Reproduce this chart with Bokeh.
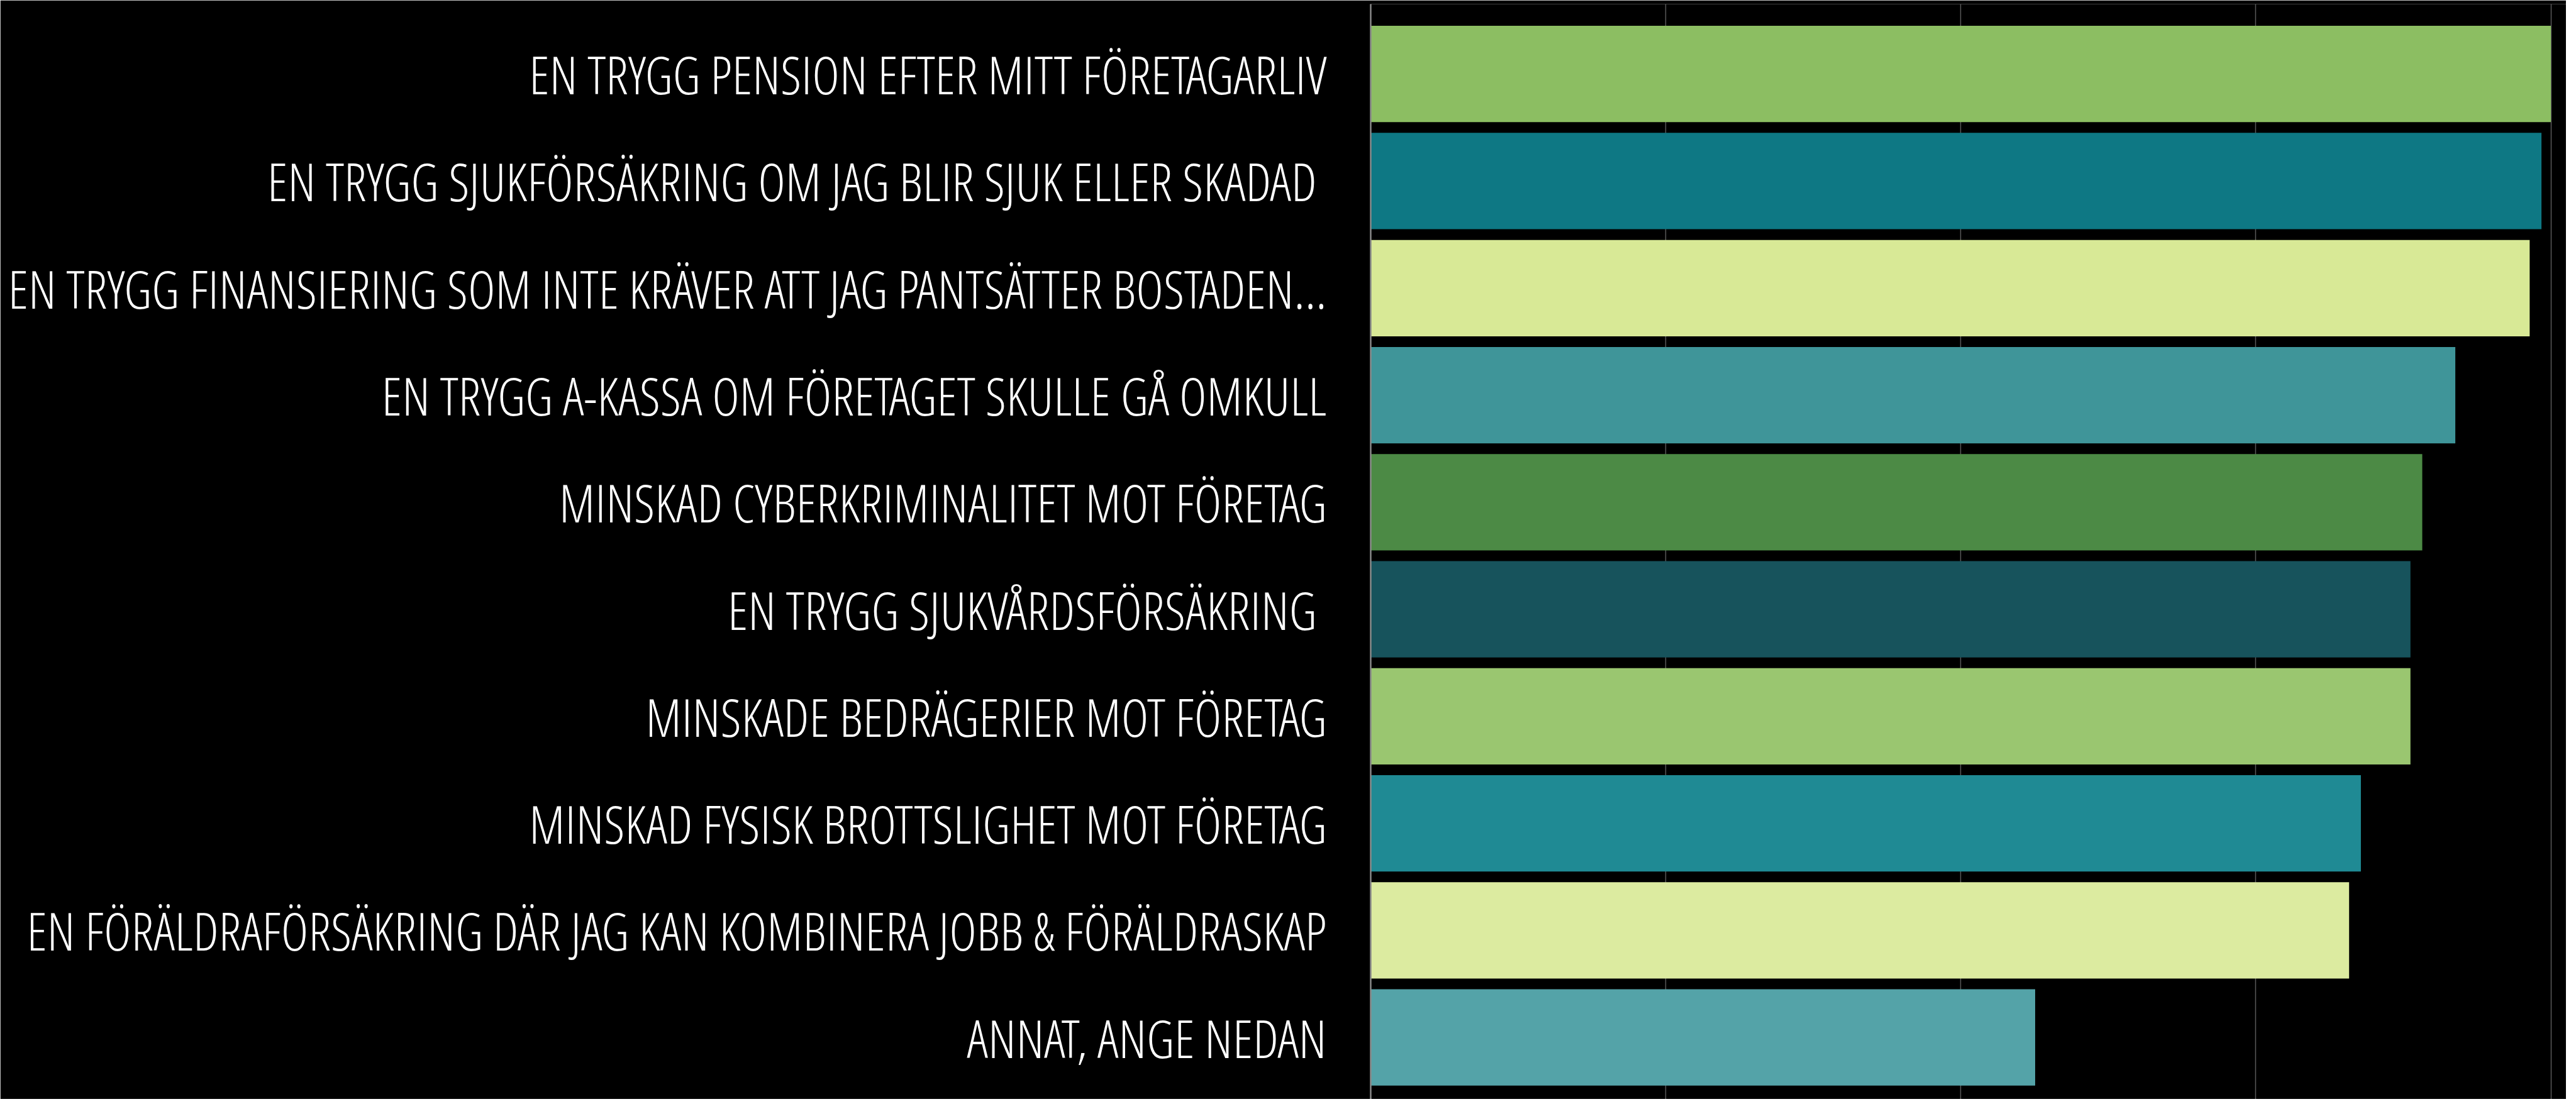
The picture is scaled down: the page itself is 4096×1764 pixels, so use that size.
from bokeh.plotting import figure
from bokeh.embed import file_html
from bokeh.resources import INLINE
from bokeh.models import Range1d, FixedTicker, Grid, ColumnDataSource

categories = [
    "EN TRYGG PENSION EFTER MITT FÖRETAGARLIV",
    "EN TRYGG SJUKFÖRSÄKRING OM JAG BLIR SJUK ELLER SKADAD ",
    "EN TRYGG FINANSIERING SOM INTE KRÄVER ATT JAG PANTSÄTTER BOSTADEN...",
    "EN TRYGG A-KASSA OM FÖRETAGET SKULLE GÅ OMKULL",
    "MINSKAD CYBERKRIMINALITET MOT FÖRETAG",
    "EN TRYGG SJUKVÅRDSFÖRSÄKRING ",
    "MINSKADE BEDRÄGERIER MOT FÖRETAG",
    "MINSKAD FYSISK BROTTSLIGHET MOT FÖRETAG",
    "EN FÖRÄLDRAFÖRSÄKRING DÄR JAG KAN KOMBINERA JOBB & FÖRÄLDRASKAP",
    "ANNAT, ANGE NEDAN",
]
values = [100.0, 99.2, 98.2, 91.9, 89.1, 88.1, 88.1, 83.9, 82.9, 56.3]
colors = ["#8CBE62", "#0E7884", "#D8E996", "#3F9599", "#4C8A45",
          "#17535C", "#9AC670", "#1F8A94", "#DCEBA0", "#54A3A8"]
grid_ticks = [0, 25, 50, 75, 100]

positions = list(range(len(categories)))
src = ColumnDataSource(dict(y=positions, right=values, color=colors))

p = figure(width=4080, height=1748, output_backend="svg", toolbar_location=None,
           x_range=Range1d(0, 101.3), y_range=Range1d(9.577, -0.653),
           x_axis_location=None, y_axis_location="left",
           background_fill_color="black", border_fill_color="black",
           min_border_left=2179, min_border_right=0, min_border_top=6, min_border_bottom=0)
p.outline_line_color = None
p.xgrid.visible = False
p.ygrid.visible = False
p.add_layout(Grid(dimension=0, ticker=FixedTicker(ticks=grid_ticks),
                  grid_line_color="#5a5a5a", grid_line_width=1.5), "center")

p.hbar(y="y", left=0, right="right", height=0.9, fill_color="color", line_color=None, source=src)

ax = p.yaxis[0]
ax.ticker = FixedTicker(ticks=positions)
ax.major_label_overrides = {i: c for i, c in zip(positions, categories)}
ax.major_label_text_font = "Open Sans Condensed Light"
ax.major_label_text_font_size = "84px"
ax.major_label_text_color = "#ffffff"
ax.major_label_standoff = 70
ax.major_tick_out = 0
ax.major_tick_in = 0
ax.major_tick_line_color = None
ax.minor_tick_line_color = None
ax.axis_line_color = "#8a8a8a"
ax.axis_line_width = 2.5

open("out.html", "w").write(file_html(p, INLINE))
